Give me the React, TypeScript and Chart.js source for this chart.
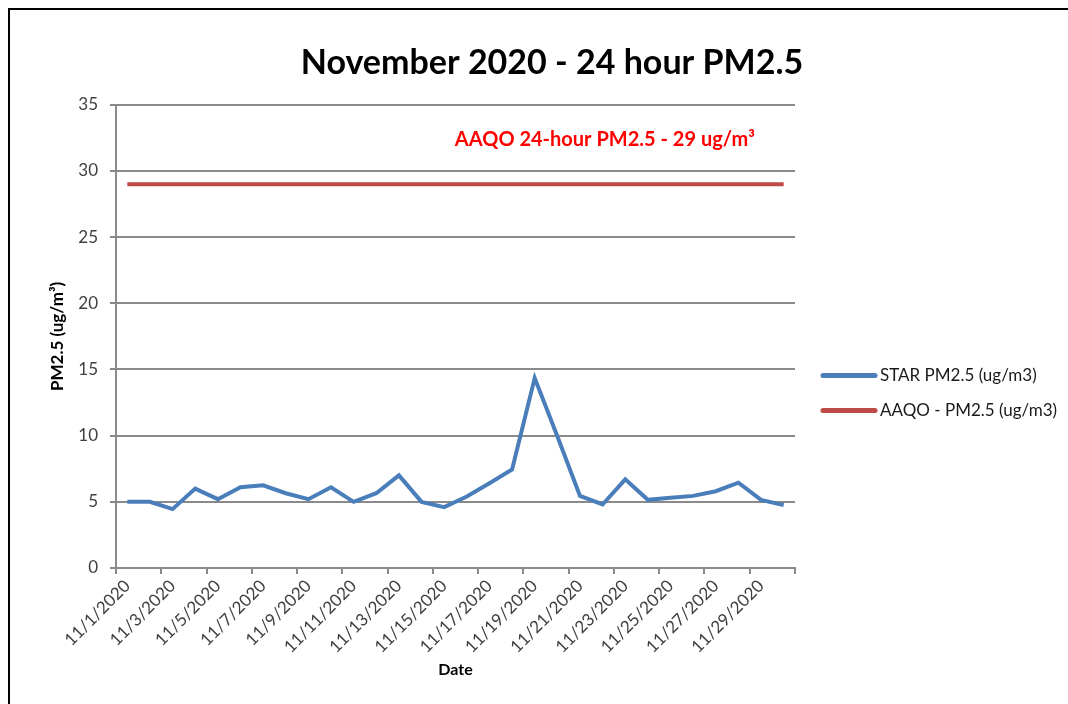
import React, { useEffect, useRef } from 'react';
import { Chart, registerables } from 'chart.js';

Chart.register(...registerables);

const FONT = "Lato, 'Open Sans', sans-serif";

const categories = [
  '11/1/2020', '11/2/2020', '11/3/2020', '11/4/2020', '11/5/2020', '11/6/2020',
  '11/7/2020', '11/8/2020', '11/9/2020', '11/10/2020', '11/11/2020', '11/12/2020',
  '11/13/2020', '11/14/2020', '11/15/2020', '11/16/2020', '11/17/2020', '11/18/2020',
  '11/19/2020', '11/20/2020', '11/21/2020', '11/22/2020', '11/23/2020', '11/24/2020',
  '11/25/2020', '11/26/2020', '11/27/2020', '11/28/2020', '11/29/2020', '11/30/2020',
];

const starValues = [
  5.0, 5.0, 4.45, 6.0, 5.2, 6.1, 6.25, 5.65, 5.2, 6.1,
  5.0, 5.65, 7.0, 5.0, 4.6, 5.4, 6.4, 7.45, 14.35, 9.95,
  5.45, 4.8, 6.7, 5.15, 5.3, 5.45, 5.8, 6.45, 5.15, 4.75,
];

const aaqoValues = [
  29, 29, 29, 29, 29, 29, 29, 29, 29, 29,
  29, 29, 29, 29, 29, 29, 29, 29, 29, 29,
  29, 29, 29, 29, 29, 29, 29, 29, 29, 29,
];

const seriesNames = ['STAR PM2.5 (ug/m3)', 'AAQO - PM2.5 (ug/m3)'];
const chartTitle = 'November 2020 - 24 hour PM2.5';
const xTitle = 'Date';
const yTitle = 'PM2.5 (ug/m\u00B3)';
const yMin = 0;
const yMax = 35;
const yStep = 5;
const annotationText = 'AAQO 24-hour PM2.5 - 29 ug/m\u00B3';
const annotationAt = { x: 21.1, y: 32.4 };

const GRID = '#8a8a8a';
const BLUE = '#4A7EBB';
const RED = '#BE4B48';

const framePlugin = {
  id: 'frame',
  beforeDraw(chart: any) {
    const ctx = chart.ctx;
    ctx.save();
    ctx.fillStyle = '#ffffff';
    ctx.fillRect(0, 0, chart.width, chart.height);
    ctx.strokeStyle = '#000000';
    ctx.lineWidth = 2;
    ctx.strokeRect(9, 9, chart.width + 40, chart.height + 40);
    ctx.restore();
  },
};

const annotationPlugin = {
  id: 'aaqoNote',
  afterDatasetsDraw(chart: any) {
    const ctx = chart.ctx;
    const x = chart.scales.x.getPixelForValue(annotationAt.x);
    const y = chart.scales.y.getPixelForValue(annotationAt.y);
    ctx.save();
    ctx.font = `bold 20px ${FONT}`;
    ctx.fillStyle = '#FF0000';
    ctx.textAlign = 'center';
    ctx.textBaseline = 'middle';
    ctx.fillText(annotationText, x, y);
    ctx.restore();
  },
};

// Side legend drawn from the chart's own datasets
const sideLegendPlugin = {
  id: 'sideLegend',
  afterDraw(chart: any) {
    const ctx = chart.ctx;
    const area = chart.chartArea;
    const x0 = area.right + 28;
    const midY = (area.top + area.bottom) / 2 + 39;
    ctx.save();
    ctx.font = `17px ${FONT}`;
    ctx.textBaseline = 'middle';
    ctx.textAlign = 'left';
    chart.data.datasets.forEach((ds: any, i: number) => {
      const y = midY + i * 35;
      ctx.strokeStyle = ds.borderColor;
      ctx.lineWidth = 5;
      ctx.lineCap = 'round';
      ctx.beginPath();
      ctx.moveTo(x0, y);
      ctx.lineTo(x0 + 52, y);
      ctx.stroke();
      ctx.fillStyle = '#1a1a1a';
      ctx.fillText(ds.label, x0 + 57, y);
    });
    ctx.restore();
  },
};

const gapAxis = (w: number) => ({
  type: 'linear',
  position: 'right',
  display: true,
  grid: { display: false, drawTicks: false },
  ticks: { display: false },
  border: { display: false },
  afterFit: (s: any) => {
    s.width = w;
  },
});

export default function App() {
  const canvasRef = useRef<HTMLCanvasElement | null>(null);

  useEffect(() => {
    if (!canvasRef.current) return;
    const chart = new Chart(canvasRef.current, {
      type: 'line',
      data: {
        labels: categories,
        datasets: [
          {
            label: seriesNames[0],
            data: starValues,
            borderColor: BLUE,
            backgroundColor: BLUE,
            borderWidth: 4,
            pointRadius: 0,
            tension: 0,
            yAxisID: 'y',
          },
          {
            label: seriesNames[1],
            data: aaqoValues,
            borderColor: RED,
            backgroundColor: RED,
            borderWidth: 4,
            pointRadius: 0,
            tension: 0,
            yAxisID: 'y',
          },
        ],
      },
      options: {
        animation: false,
        responsive: false,
        maintainAspectRatio: false,
        layout: { padding: { left: 43, right: 7, top: 27, bottom: 25 } },
        plugins: {
          title: {
            display: true,
            text: chartTitle,
            color: '#000000',
            font: { family: FONT, size: 34, weight: 'bold' },
            padding: { top: 16, bottom: 21 },
          },
          legend: { display: false },
          tooltip: { enabled: false },
        },
        scales: {
          x: {
            type: 'category',
            offset: true,
            grid: {
              offset: true,
              drawOnChartArea: false,
              drawTicks: true,
              tickLength: 6,
              lineWidth: 2,
              tickColor: (ctx: any) =>
                ctx.type !== 'tick' || ctx.index % 2 === 0 ? GRID : 'rgba(0,0,0,0)',
            },
            border: { display: true, color: GRID, width: 2 },
            ticks: {
              autoSkip: false,
              maxRotation: 45,
              minRotation: 45,
              padding: 2,
              color: '#404040',
              font: { family: FONT, size: 17 },
              callback: (_v: any, i: number) => (i % 2 === 0 ? categories[i] : ''),
            },
            title: {
              display: true,
              text: xTitle,
              color: '#000000',
              font: { family: FONT, size: 16, weight: 'bold' },
              padding: { top: 0, bottom: 0 },
            },
            afterFit: (s: any) => {
              s.height = 111;
            },
          },
          y: {
            position: 'left',
            min: yMin,
            max: yMax,
            ticks: {
              stepSize: yStep,
              padding: 12,
              color: '#404040',
              font: { family: FONT, size: 17 },
            },
            grid: { color: GRID, lineWidth: 2, tickLength: 6 },
            border: { display: true, color: GRID, width: 2 },
            title: {
              display: true,
              text: yTitle,
              color: '#000000',
              font: { family: FONT, size: 17, weight: 'bold' },
              padding: { top: 4, bottom: 4 },
            },
            afterFit: (s: any) => {
              s.width = 73;
            },
          },
          gapA: gapAxis(133),
          gapB: gapAxis(133),
        },
      },
      plugins: [framePlugin, annotationPlugin, sideLegendPlugin],
    } as any);
    return () => chart.destroy();
  }, []);

  return (
    <div style={{ position: 'absolute', left: 0, top: 0, width: 1068, height: 704 }}>
      <canvas ref={canvasRef} width={1068} height={704} style={{ display: 'block' }} />
    </div>
  );
}
